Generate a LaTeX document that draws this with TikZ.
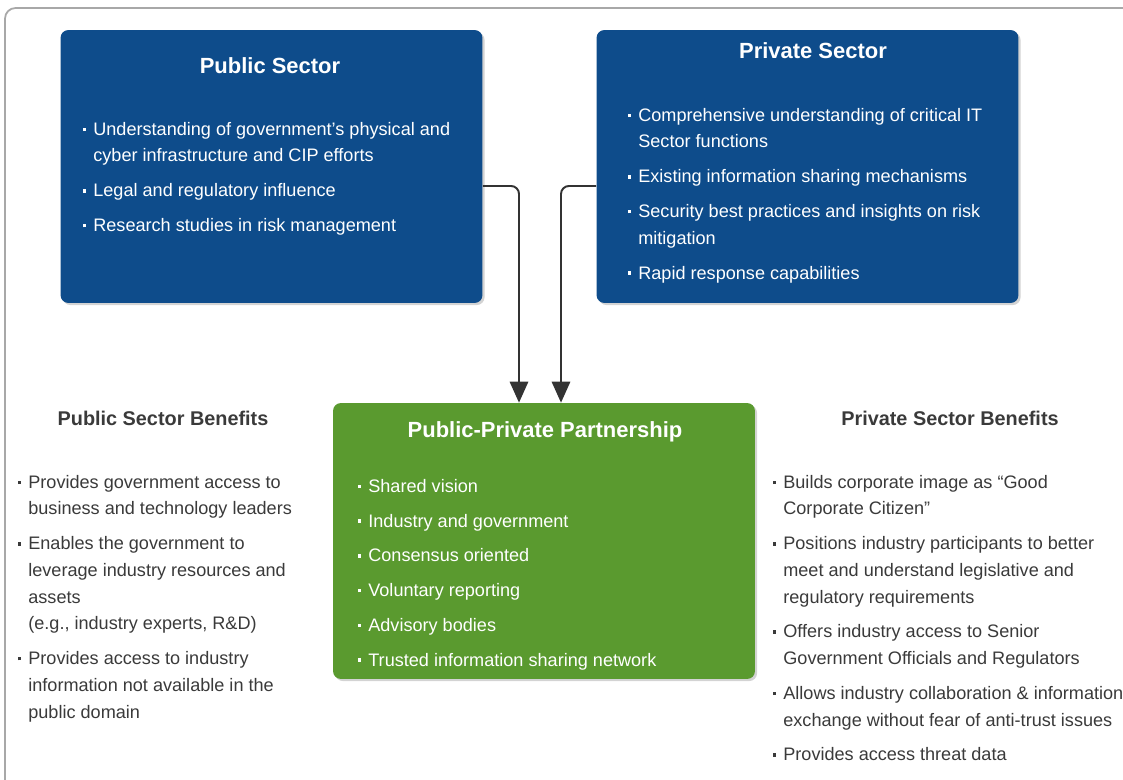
\documentclass[tikz,border=0pt]{standalone}
\usepackage{fontspec}
\setmainfont{Liberation Sans}
\usetikzlibrary{arrows.meta,calc,shadows}

\definecolor{secblue}{HTML}{0E4C8B}
\definecolor{ppgreen}{HTML}{5A9A2F}
\definecolor{txtgray}{HTML}{3A3A3A}
\definecolor{framegray}{HTML}{A8A8A8}
\definecolor{arrowgray}{HTML}{333333}

\newcommand{\bull}{\strut\llap{\rule[2.4pt]{2pt}{2pt}\hspace{4pt}}}
\newcommand{\igap}{\\[4.6pt]}

\tikzset{
  sector/.style={fill=#1, rounded corners=4.5pt, minimum width=8.44cm, minimum height=5.46cm,
    drop shadow={opacity=0.35, shadow xshift=1.2pt, shadow yshift=-1.2pt}},
  boxtitle/.style={anchor=base, text=white, font=\fontsize{12.5}{15}\selectfont\bfseries},
  boxlist/.style={anchor=north west, align=left, inner sep=0pt, text=white, font=\fontsize{10.3}{15.2}\selectfont},
  sidetitle/.style={anchor=base, text=txtgray, font=\fontsize{11.3}{14}\selectfont\bfseries},
  sidelist/.style={boxlist, text=txtgray},
  flow/.style={draw=arrowgray, line width=1.1pt, rounded corners=4.5pt, -{Triangle[length=12pt,width=10.5pt]}}
}

\begin{document}
\begin{tikzpicture}[x=0.02cm, y=-0.02cm]
  \useasboundingbox (0,0) rectangle (1123,780);
  \draw[framegray, line width=1pt, rounded corners=6pt] (5,8) rectangle (1170,820);

  % the two sectors
  \node[sector=secblue] (pub) at (271.5,166.5) {};
  \node[sector=secblue] (priv) at (807.5,166.5) {};
  \node[boxtitle] (pubtitle) at (270,74) {Public Sector};
  \node[boxtitle] (privtitle) at (813,59) {Private Sector};
  \node[boxlist] (publist) at (93,116.2) {%
    \bull Understanding of government’s physical and\\ cyber infrastructure and CIP efforts\igap
    \bull Legal and regulatory influence\igap
    \bull Research studies in risk management};
  \node[boxlist] (privlist) at (638,102.2) {%
    \bull Comprehensive understanding of critical IT\\ Sector functions\igap
    \bull Existing information sharing mechanisms\igap
    \bull Security best practices and insights on risk\\ mitigation\igap
    \bull Rapid response capabilities};

  % partnership
  \node[sector=ppgreen, minimum height=5.52cm] (ppp) at (544,541) {};
  \node[boxtitle] (ppptitle) at (545,438) {Public-Private Partnership};
  \node[boxlist] (ppplist) at (368,473.2) {%
    \bull Shared vision\igap
    \bull Industry and government\igap
    \bull Consensus oriented\igap
    \bull Voluntary reporting\igap
    \bull Advisory bodies\igap
    \bull Trusted information sharing network};

  \draw[flow] ($(pub.east)+(0,19.5)$) -| ($(ppp.north)+(-25,0)$);
  \draw[flow] ($(priv.west)+(0,19.5)$) -| ($(ppp.north)+(17,0)$);

  % benefits
  \node[sidetitle] (pubben) at (163,426) {Public Sector Benefits};
  \node[sidelist] (pubbenlist) at (28,469.2) {%
    \bull Provides government access to\\ business and technology leaders\igap
    \bull Enables the government to\\ leverage industry resources and\\ assets\\ (e.g., industry experts, R\&D)\igap
    \bull Provides access to industry\\ information not available in the\\ public domain};
  \node[sidetitle] (privben) at (950,426) {Private Sector Benefits};
  \node[sidelist] (privbenlist) at (783,469.2) {%
    \bull Builds corporate image as “Good\\ Corporate Citizen”\igap
    \bull Positions industry participants to better\\ meet and understand legislative and\\ regulatory requirements\igap
    \bull Offers industry access to Senior\\ Government Officials and Regulators\igap
    \bull Allows industry collaboration \& information\\ exchange without fear of anti-trust issues\igap
    \bull Provides access threat data};
\end{tikzpicture}
\end{document}
